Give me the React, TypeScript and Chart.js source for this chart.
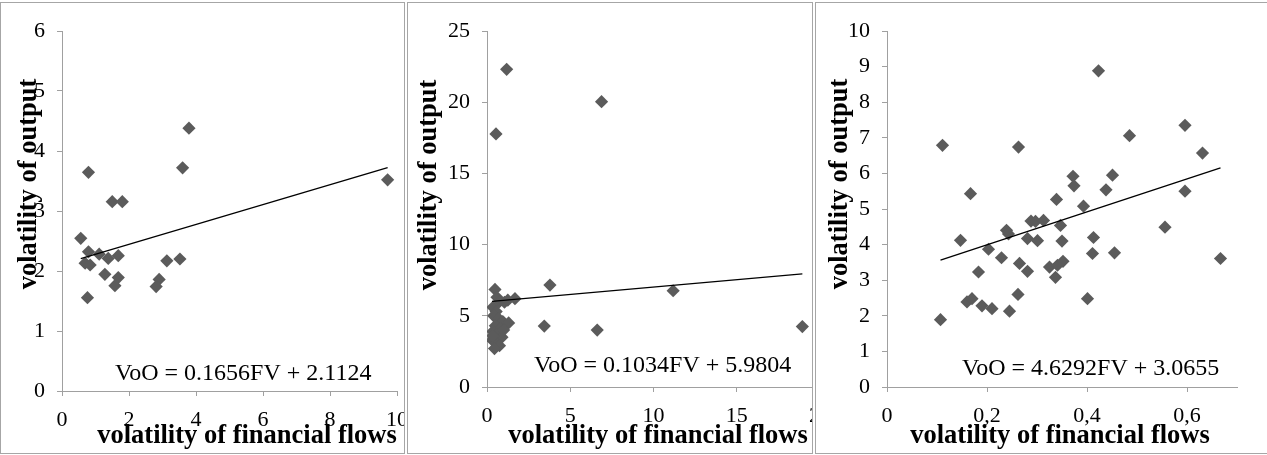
import React, { useEffect, useRef } from 'react';
import { Chart, registerables } from 'chart.js';

Chart.register(...registerables);

// ---------- Panel 1 ----------
const p1X = [0.56, 0.79, 1.11, 1.38, 1.68, 0.69, 0.84, 1.28, 1.68, 1.58, 0.76, 3.13, 3.52, 2.9, 2.81, 0.79, 1.5, 1.8, 3.6, 3.79, 9.72];
const p1Y = [2.545, 2.32, 2.28, 2.21, 2.255, 2.13, 2.1, 1.945, 1.89, 1.755, 1.555, 2.17, 2.2, 1.86, 1.74, 3.645, 3.155, 3.155, 3.72, 4.38, 3.52];
const p1XTicks = ['0', '2', '4', '6', '8', '10'];
const p1YTicks = ['0', '1', '2', '3', '4', '5', '6'];
const p1Slope = 0.1656;
const p1Intercept = 2.1124;
const p1Equation = 'VoO = 0.1656FV + 2.1124';

// ---------- Panel 2 ----------
const p2X = [1.18, 0.54, 6.88, 3.78, 11.18, 3.44, 6.62, 18.94, 0.48, 1.68,
  0.6, 0.75, 1.05, 1.25, 0.35, 0.55, 0.4, 0.7, 0.95, 1.3, 0.5, 0.8, 0.35, 0.6, 0.9, 0.3, 0.55, 0.75, 0.45, 0.35, 1.0];
const p2Y = [22.31, 17.77, 20.04, 7.16, 6.76, 4.28, 4.0, 4.24, 6.85, 6.2,
  6.3, 6.0, 5.95, 6.1, 5.6, 5.3, 5.0, 4.8, 4.6, 4.5, 4.3, 4.1, 3.9, 3.7, 3.5, 3.3, 3.1, 2.9, 2.7, 3.6, 4.0];
const p2XTicks = ['0', '5', '10', '15', '20'];
const p2YTicks = ['0', '5', '10', '15', '20', '25'];
const p2Slope = 0.1034;
const p2Intercept = 5.9804;
const p2Equation = 'VoO = 0.1034FV + 5.9804';

// ---------- Panel 3 ----------
const p3X = [0.111, 0.107, 0.147, 0.16, 0.17, 0.167, 0.183, 0.19, 0.203, 0.21, 0.229, 0.239, 0.243, 0.245, 0.262, 0.263,
  0.265, 0.281, 0.281, 0.288, 0.297, 0.301, 0.313, 0.325, 0.337, 0.339, 0.341, 0.347, 0.35, 0.352, 0.372, 0.374,
  0.393, 0.401, 0.411, 0.413, 0.423, 0.438, 0.451, 0.455, 0.485, 0.556, 0.596, 0.596, 0.631, 0.667];
const p3Y = [6.79, 1.89, 4.12, 2.39, 2.48, 5.43, 3.23, 2.28, 3.87, 2.2, 3.63, 4.4, 4.3, 2.13, 2.6, 6.74,
  3.47, 3.25, 4.17, 4.66, 4.65, 4.11, 4.68, 3.37, 3.08, 5.27, 3.42, 4.54, 4.1, 3.53, 5.92, 5.65,
  5.08, 2.48, 3.75, 4.2, 8.88, 5.54, 5.95, 3.77, 7.06, 4.49, 7.35, 5.5, 6.57, 3.61];
const p3XTicks = ['0', '0,2', '0,4', '0,6'];
const p3YTicks = ['0', '1', '2', '3', '4', '5', '6', '7', '8', '9', '10'];
const p3Slope = 4.6292;
const p3Intercept = 3.0655;
const p3Equation = 'VoO = 4.6292FV + 3.0655';

const xTitle = 'volatility of financial flows';
const yTitle = 'volatility of output';

const FONT = '"Liberation Serif", "Times New Roman", serif';
const AXIS_GRAY = '#a0a0a0';
const POINT_COLOR = '#5b5b5b';

type PanelCfg = {
  xs: number[];
  ys: number[];
  xTicks: string[];
  yTicks: string[];
  xMin: number; xMax: number; xStep: number;
  yMin: number; yMax: number; yStep: number;
  slope: number; intercept: number; equation: string;
  left: number; clipW: number; canvasW: number;
  area: { left: number; right: number; top: number; bottom: number };
  yTitlePos: { x: number; y: number };
  xTitlePos: { x: number; y: number };
  eqPos: { x: number; y: number };
};

const H = 455;
const Y_W = 60;
const X_H = 50;

const panels: PanelCfg[] = [
  {
    xs: p1X, ys: p1Y, xTicks: p1XTicks, yTicks: p1YTicks,
    xMin: 0, xMax: 10, xStep: 2, yMin: 0, yMax: 6, yStep: 1,
    slope: p1Slope, intercept: p1Intercept, equation: p1Equation,
    left: 0, clipW: 404, canvasW: 404,
    area: { left: 62, right: 397, top: 31, bottom: 391 },
    yTitlePos: { x: 36, y: 184 },
    xTitlePos: { x: 247, y: 443 },
    eqPos: { x: 115, y: 380 },
  },
  {
    xs: p2X, ys: p2Y, xTicks: p2XTicks, yTicks: p2YTicks,
    xMin: 0, xMax: 20, xStep: 5, yMin: 0, yMax: 25, yStep: 5,
    slope: p2Slope, intercept: p2Intercept, equation: p2Equation,
    left: 407, clipW: 405, canvasW: 440,
    area: { left: 80, right: 413, top: 31, bottom: 387 },
    yTitlePos: { x: 29, y: 185 },
    xTitlePos: { x: 251, y: 443 },
    eqPos: { x: 127, y: 372 },
  },
  {
    xs: p3X, ys: p3Y, xTicks: p3XTicks, yTicks: p3YTicks,
    xMin: 0, xMax: 0.7, xStep: 0.2, yMin: 0, yMax: 10, yStep: 1,
    slope: p3Slope, intercept: p3Intercept, equation: p3Equation,
    left: 815, clipW: 452, canvasW: 452,
    area: { left: 72, right: 422, top: 31, bottom: 387 },
    yTitlePos: { x: 32, y: 184 },
    xTitlePos: { x: 245, y: 443 },
    eqPos: { x: 147, y: 375 },
  },
];

function Panel({ cfg }: { cfg: PanelCfg }) {
  const ref = useRef<HTMLCanvasElement | null>(null);

  useEffect(() => {
    if (!ref.current) return;
    const pts = cfg.xs.map((x, i) => ({ x, y: cfg.ys[i] }));
    const xLo = Math.min(...cfg.xs);
    const xHi = Math.max(...cfg.xs);
    const trend = [
      { x: xLo, y: cfg.slope * xLo + cfg.intercept },
      { x: xHi, y: cfg.slope * xHi + cfg.intercept },
    ];

    const textPlugin = {
      id: 'panelText',
      afterDraw(chart: any) {
        const ctx = chart.ctx as CanvasRenderingContext2D;
        ctx.save();
        ctx.fillStyle = '#000';
        ctx.font = `bold 26.5px ${FONT}`;
        ctx.textBaseline = 'alphabetic';
        ctx.textAlign = 'center';
        ctx.fillText(xTitle, cfg.xTitlePos.x, cfg.xTitlePos.y);
        ctx.save();
        ctx.translate(cfg.yTitlePos.x, cfg.yTitlePos.y);
        ctx.rotate(-Math.PI / 2);
        ctx.fillText(yTitle, 0, 0);
        ctx.restore();
        ctx.font = `24px ${FONT}`;
        ctx.textAlign = 'left';
        ctx.fillText(cfg.equation, cfg.eqPos.x, cfg.eqPos.y);
        ctx.restore();
      },
    };

    const tickFont = { family: FONT, size: 22 };

    const chart = new Chart(ref.current, {
      type: 'scatter',
      data: {
        datasets: [
          {
            data: trend,
            showLine: true,
            pointRadius: 0,
            borderColor: '#000',
            borderWidth: 1.3,
            order: 0,
          } as any,
          {
            data: pts,
            pointStyle: 'rectRot',
            pointRadius: 6.6,
            backgroundColor: POINT_COLOR,
            borderWidth: 0,
            order: 1,
          } as any,
        ],
      },
      options: {
        animation: false,
        responsive: false,
        maintainAspectRatio: false,
        events: [],
        layout: {
          padding: {
            left: cfg.area.left - Y_W,
            right: cfg.canvasW - cfg.area.right,
            top: cfg.area.top,
            bottom: H - cfg.area.bottom - X_H,
          },
        },
        plugins: { legend: { display: false }, tooltip: { enabled: false } },
        scales: {
          x: {
            type: 'linear',
            min: cfg.xMin,
            max: cfg.xMax,
            ticks: {
              stepSize: cfg.xStep,
              includeBounds: false,
              autoSkip: false,
              maxRotation: 0,
              font: tickFont,
              color: '#000',
              padding: 11,
              callback: (_v: any, i: number) => cfg.xTicks[i],
            },
            grid: { drawOnChartArea: false, drawTicks: true, tickLength: 5, color: AXIS_GRAY },
            border: { color: AXIS_GRAY, width: 1 },
            afterFit: (s: any) => {
              s.height = X_H;
              s.paddingLeft = 0;
              s.paddingRight = 0;
            },
          },
          y: {
            type: 'linear',
            min: cfg.yMin,
            max: cfg.yMax,
            ticks: {
              stepSize: cfg.yStep,
              includeBounds: false,
              autoSkip: false,
              font: tickFont,
              color: '#000',
              padding: 12,
              callback: (_v: any, i: number) => cfg.yTicks[i],
            },
            grid: { drawOnChartArea: false, drawTicks: true, tickLength: 5, color: AXIS_GRAY },
            border: { color: AXIS_GRAY, width: 1 },
            afterFit: (s: any) => {
              s.width = Y_W;
              s.paddingTop = 0;
              s.paddingBottom = 0;
            },
          },
        },
      } as any,
      plugins: [textPlugin],
    });
    return () => chart.destroy();
  }, [cfg]);

  return (
    <div
      style={{
        position: 'absolute',
        left: cfg.left,
        top: 0,
        width: cfg.clipW,
        height: H,
        overflow: 'hidden',
      }}
    >
      <canvas
        ref={ref}
        width={cfg.canvasW}
        height={H}
        style={{ position: 'absolute', left: 0, top: 0, width: cfg.canvasW, height: H }}
      />
    </div>
  );
}

const borderBoxes = [
  { left: 0, width: 405 },
  { left: 407, width: 406 },
  { left: 815, width: 460 },
];

export default function App() {
  return (
    <div
      style={{
        position: 'fixed',
        left: 0,
        top: 0,
        width: 1267,
        height: H,
        background: '#fff',
        overflow: 'hidden',
      }}
    >
      {panels.map((p, i) => (
        <Panel key={i} cfg={p} />
      ))}
      {borderBoxes.map((b, i) => (
        <div
          key={'b' + i}
          style={{
            position: 'absolute',
            left: b.left,
            top: 2,
            width: b.width,
            height: 452,
            border: '1px solid #a6a6a6',
            boxSizing: 'border-box',
            pointerEvents: 'none',
          }}
        />
      ))}
    </div>
  );
}
